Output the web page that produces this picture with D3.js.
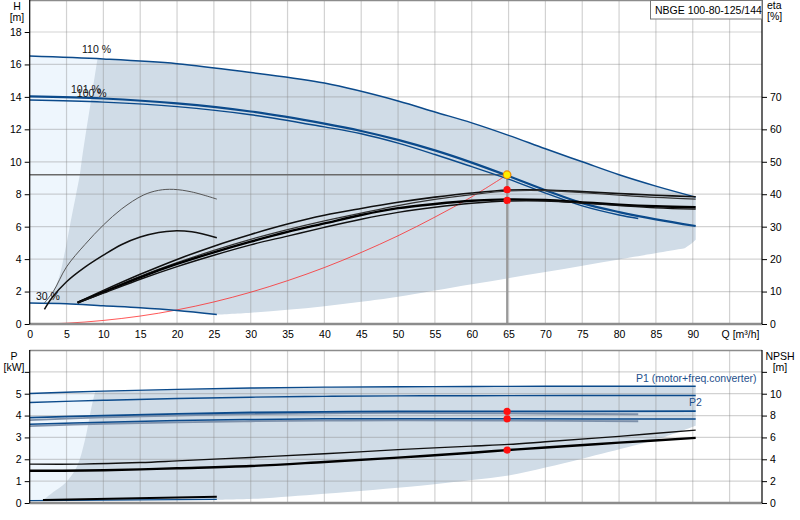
<!DOCTYPE html>
<html><head><meta charset="utf-8">
<script src="https://cdn.jsdelivr.net/npm/d3@7"></script>
<style>
body{margin:0;background:#fff}
svg{display:block;font-family:"Liberation Sans",Arial,sans-serif;font-size:10.5px}
</style>
</head><body>
<svg id="chart" width="800" height="520"></svg>
<script>
// ---------------- DATA ----------------
const title = "NBGE 100-80-125/144";
const qTicks = [0,5,10,15,20,25,30,35,40,45,50,55,60,65,70,75,80,85,90];
const qGrid = [5,10,15,20,25,30,35,40,45,50,55,60,65,70,75,80,85,90,95];
const hTicks = [0,2,4,6,8,10,12,14,16,18];
const etaTicks = [0,10,20,30,40,50,60,70];
const pTicks = [0,1,2,3,4,5,6];
const pLabels = ["0","1","2","3","4","5",""];
const npshTicks = [0,2,4,6,8,10,12];
const npshLabels = ["0","2","4","6","8","10",""];

// head curves [Q m3/h, H m]
const head110 = [[0,16.52],[10,16.34],[20,16.05],[30,15.5],[40,14.85],[50,13.75],[55,13.07],[60,12.4],[65,11.63],[70,10.8],[75,10.0],[80,9.2],[85,8.5],[90.4,7.82]];
const head101 = [[0,14.03],[10,13.9],[20,13.6],[30,13.1],[40,12.35],[45,11.9],[50,11.35],[55,10.7],[60,9.95],[65,9.12],[70,8.25],[75,7.45],[80,6.9],[85,6.45],[90.4,6.04]];
const head100 = [[0,13.81],[10,13.68],[20,13.4],[30,12.9],[40,12.15],[45,11.73],[50,11.15],[55,10.45],[60,9.7],[65,8.93],[70,8.07],[75,7.28],[80,6.72],[82.6,6.5]];
const head30  = [[0,1.3],[5,1.25],[10,1.12],[15,1.0],[20,0.83],[25.4,0.58]];
const systemCurve = [[0,0],[5,0.05],[10,0.22],[15,0.49],[20,0.87],[25,1.36],[30,1.96],[35,2.67],[40,3.48],[45,4.41],[50,5.44],[55,6.59],[60,7.84],[64.8,9.2]];
// curve labels [text, Q at text start, H at baseline]
const curveLabels = [["110 %", 7.1, 16.7], ["101 %", 5.6, 14.25], ["100 %", 6.4, 14.0], ["30 %", 0.85, 1.48]];

// efficiency curves [Q, eta %]
const etaSmallA = [[2,6.5],[3.2,10],[5,17.6],[7.5,24.5],[10,30.5],[12.5,35.5],[15.4,39.7],[17.5,41.2],[19.5,41.5],[22,40.7],[25.4,38.5]];
const etaSmallB = [[2,4.5],[3,8],[5,13],[7.5,17.5],[10,21.2],[12.5,24.5],[15,26.8],[17.5,28.2],[19.5,28.7],[22,28.4],[25.4,26.6]];
const eta1 = [[6.5,6.6],[10,10.3],[15,15.3],[20,19.9],[25,24.0],[30,27.6],[35,30.8],[40,33.5],[45,35.6],[50,37.5],[55,39.1],[60,40.4],[65,41.3],[70,41.3],[75,40.8],[80,40.2],[85,39.7],[90.4,39.2]];
const eta2 = [[6.5,6.6],[10,10.0],[15,14.7],[20,18.9],[25,22.7],[30,26.1],[35,29.1],[40,31.8],[45,34.2],[50,36.5],[55,38.4],[60,39.9],[65,41.0],[70,41.1],[75,40.5],[80,39.7],[85,39.0],[90.4,38.5]];
const eta3 = [[6.5,6.6],[10,9.8],[15,14.4],[20,18.5],[25,22.1],[30,25.4],[35,28.4],[40,31.0],[45,33.6],[50,35.7],[55,37.0],[60,38.0],[65,38.4],[70,38.2],[75,37.5],[80,36.8],[85,36.3],[90.4,36.0]];
const eta4 = [[6.5,6.6],[10,9.5],[15,13.8],[20,17.7],[25,21.2],[30,24.4],[35,27.1],[40,29.8],[45,32.3],[50,34.4],[55,36.0],[60,37.2],[65,37.9],[70,37.9],[75,37.3],[80,36.5],[85,35.8],[90.4,35.4]];

// operating point
const opQ = 64.8, opH = 9.2;
const opEta = [41.4, 38.1];
const opP = [4.19, 3.85];
const opNpsh = 4.84;

// shaded envelope (top) [Q, H]
const topLeftEdge = [[2.6,1.28],[3.2,2.0],[4.0,2.9],[4.8,4.5],[5.6,6.4],[6.3,8.0],[6.8,9.2],[7.1,10.2],[7.7,12.0],[8.4,14.0],[9.2,16.33]];
const topRightEdge = [[90.4,7.82],[90.4,5.2],[89.8,4.95]];
const topLowEdge = [[25.4,0.58],[30,0.7],[35,0.88],[40,1.1],[45,1.37],[50,1.68],[60,2.45],[70,3.2],[80,3.98],[88.9,4.67]];

// power curves [Q, kW]
const p1_110 = [[0,5.01],[10,5.12],[20,5.2],[30,5.26],[40,5.3],[50,5.32],[60,5.33],[70,5.34],[90.4,5.34]];
const p2_110 = [[0,4.6],[10,4.7],[20,4.78],[30,4.84],[40,4.88],[50,4.9],[60,4.91],[90.4,4.92]];
const p1_100 = [[0,3.91],[10,4.0],[20,4.08],[30,4.14],[40,4.17],[50,4.19],[65,4.19],[90.4,4.2]];
const p1_101 = [[0,3.79],[10,3.92],[20,4.0],[30,4.07],[40,4.1],[50,4.12],[65,4.1],[82.6,4.06]];
const p2_100 = [[0,3.6],[10,3.7],[20,3.77],[30,3.82],[40,3.85],[50,3.86],[65,3.85],[90.4,3.84]];
const p2_101 = [[0,3.52],[10,3.62],[20,3.69],[30,3.74],[40,3.77],[50,3.78],[65,3.77],[82.6,3.74]];
const p_30 = [[0,0.11],[25.4,0.17]];

// NPSH curves [Q, m]
const npshA = [[0,3.56],[7,3.56],[15,3.7],[20,3.85],[30,4.17],[40,4.5],[50,4.88],[60,5.2],[65,5.36],[70,5.6],[80,6.1],[90.4,6.67]];
const npshB = [[0,2.95],[7.5,2.97],[15,3.08],[20,3.18],[30,3.38],[40,3.75],[50,4.15],[60,4.6],[64.8,4.84],[70,5.08],[80,5.52],[90.4,5.96]];
const npsh30 = [[1.8,0.28],[25.4,0.57]];

// shaded envelope (bottom) [Q, kW]
const botLeftEdge = [[1.8,0.12],[3.2,0.5],[4.8,0.9],[6.4,1.66],[7.5,2.88],[8.4,4.4],[8.9,5.1]];
const botLowEdge = [[25.4,0.15],[31,0.2],[40,0.42],[53,0.79],[60,1.05],[65,1.26],[70,1.62],[75.1,2.04],[81.9,2.62],[86,3.0],[90.4,3.53]];
const botLightBase = [[10,0.13],[0,0.11]];

// ---------------- LAYOUT ----------------
const svg = d3.select("#chart");
const L = 29.7, R = 762;
const x = d3.scaleLinear().domain([0, 99.4]).range([L, R]);
const T1 = 0, B1 = 324;
const yH = d3.scaleLinear().domain([0, 18]).range([B1, 32]);
const yEta = d3.scaleLinear().domain([0, 90]).range([B1, 32]);
const T2 = 350, B2 = 503;
const yP = d3.scaleLinear().domain([0, 7]).range([B2, T2]);
const yN = d3.scaleLinear().domain([0, 14]).range([B2, T2]);

const NAVY = "#0b4a8b", GREYBLUE = "#7d90aa";
const DARK = "#d0dce7", LIGHT = "#eef6fd";

function seg(pts, ys) {
  return d3.line().x(d => x(d[0])).y(d => ys(d[1])).curve(d3.curveCatmullRom.alpha(0.5))(pts);
}
function poly(parts) { return parts.map((s, i) => i ? s.replace(/^M/, "L") : s).join("") + "Z"; }
const rev = a => a.slice().reverse();

// clip paths
const defs = svg.append("defs");
defs.append("clipPath").attr("id", "c1").append("rect").attr("x", L).attr("y", T1).attr("width", R - L).attr("height", B1 - T1);
defs.append("clipPath").attr("id", "c2").append("rect").attr("x", L).attr("y", T2).attr("width", R - L).attr("height", B2 - T2);

const g1 = svg.append("g").attr("clip-path", "url(#c1)");
const g2 = svg.append("g").attr("clip-path", "url(#c2)");

// ---- top shaded regions
g1.append("path").attr("fill", LIGHT)
  .attr("d", poly([seg(head110.slice(0, 2), yH), seg(rev(head30.slice(0, 3)), yH)]));
g1.append("path").attr("fill", DARK)
  .attr("d", poly([
    seg([topLeftEdge[topLeftEdge.length - 1]].concat(head110.filter(d => d[0] > 9.5)), yH),
    seg(topRightEdge.slice(1), yH),
    seg(rev(topLowEdge), yH),
    seg(rev(head30.filter(d => d[0] > 2.6)), yH),
    seg(topLeftEdge, yH)
  ]));

// ---- bottom shaded regions
g2.append("path").attr("fill", LIGHT)
  .attr("d", poly([seg(p1_110.slice(0, 2), yP), seg(botLightBase, yP)]));
g2.append("path").attr("fill", DARK)
  .attr("d", poly([
    seg([botLeftEdge[botLeftEdge.length - 1]].concat(p1_110.filter(d => d[0] > 9.5)), yP),
    seg(rev(botLowEdge), yP),
    seg(rev(p_30).concat([botLeftEdge[0]]), yP),
    seg(botLeftEdge, yP)
  ]));

// ---- gridlines
function grid(g, ys, vals, top, bottom) {
  g.selectAll(null).data(qGrid).join("line")
    .attr("x1", d => x(d)).attr("x2", d => x(d)).attr("y1", top).attr("y2", bottom)
    .attr("stroke", "#8a8a8a").attr("stroke-opacity", 0.38).attr("stroke-width", 1.2);
  g.selectAll(null).data(vals).join("line")
    .attr("x1", L).attr("x2", R).attr("y1", d => ys(d)).attr("y2", d => ys(d))
    .attr("stroke", "#8a8a8a").attr("stroke-opacity", 0.38).attr("stroke-width", 1.2);
}
grid(g1, yH, hTicks.slice(1), T1, B1);
grid(g2, yP, pTicks.slice(1), T2, B2);

// ---- top curves
function curve(g, data, ys, color, w, op) {
  g.append("path").datum(data).attr("fill", "none").attr("stroke", color)
    .attr("stroke-width", w).attr("stroke-opacity", op == null ? 1 : op)
    .attr("stroke-linejoin", "round").attr("stroke-linecap", "butt")
    .attr("d", d3.line().x(d => x(d[0])).y(d => ys(d[1])).curve(d3.curveCatmullRom.alpha(0.5)));
}
// operating lines
g1.append("line").attr("x1", L).attr("x2", x(opQ)).attr("y1", yH(opH)).attr("y2", yH(opH))
  .attr("stroke", "#6a6a6a").attr("stroke-width", 1.3);
g1.append("line").attr("x1", x(opQ)).attr("x2", x(opQ)).attr("y1", yH(opH)).attr("y2", yH(0))
  .attr("stroke", "#9a9a9a").attr("stroke-width", 2);

curve(g1, systemCurve, yH, "#ff2020", 1, 0.75);
curve(g1, head30, yH, NAVY, 1.5);
curve(g1, head110, yH, NAVY, 1.5);
curve(g1, head100, yH, NAVY, 1.4);
curve(g1, head101, yH, NAVY, 2.2);

curve(g1, etaSmallA, yEta, "#555", 1);
curve(g1, etaSmallB, yEta, "#111", 1.5);
curve(g1, eta1, yEta, "#111", 1.6);
curve(g1, eta2, yEta, "#333", 1.2);
curve(g1, eta3, yEta, "#000", 2.4);
curve(g1, eta4, yEta, "#111", 1.4);

// curve labels
svg.selectAll(null).data(curveLabels).join("text")
  .attr("x", d => x(d[1])).attr("y", d => yH(d[2]))
  .text(d => d[0]).attr("fill", "#111");

// operating points top
g1.selectAll(null).data(opEta).join("circle")
  .attr("cx", x(opQ)).attr("cy", d => yEta(d)).attr("r", 3.6).attr("fill", "#ff1010");
g1.append("circle").attr("cx", x(opQ)).attr("cy", yH(opH)).attr("r", 3.8)
  .attr("fill", "#ffee00").attr("stroke", "#f09000").attr("stroke-width", 1.2);

// ---- bottom curves
curve(g2, p_30, yP, NAVY, 1.3);
curve(g2, npsh30, yN, "#000", 2);
curve(g2, p1_110, yP, NAVY, 1.4);
curve(g2, p2_110, yP, NAVY, 1.4);
curve(g2, p1_101, yP, GREYBLUE, 1.8);
curve(g2, p2_101, yP, GREYBLUE, 1.8);
curve(g2, p1_100, yP, NAVY, 1.8);
curve(g2, p2_100, yP, NAVY, 1.5);
curve(g2, npshA, yN, "#111", 1.4);
curve(g2, npshB, yN, "#000", 2.4);

g2.selectAll(null).data(opP).join("circle")
  .attr("cx", x(opQ)).attr("cy", d => yP(d)).attr("r", 3.6).attr("fill", "#ff1010");
g2.append("circle").attr("cx", x(opQ)).attr("cy", yN(opNpsh)).attr("r", 3.6).attr("fill", "#ff1010");

svg.append("text").attr("x", 636).attr("y", 382).attr("fill", "#1d4f8c").text("P1 (motor+freq.converter)");
svg.append("text").attr("x", 689).attr("y", 406).attr("fill", "#1d4f8c").text("P2");

// ---- frames / axes
function hline(y, color, w) {
  svg.append("line").attr("x1", L).attr("x2", R).attr("y1", y).attr("y2", y).attr("stroke", color).attr("stroke-width", w);
}
hline(T1 + 0.5, "#8c8c8c", 1.5);
hline(B1, "#8c8c8c", 2.5);
hline(T2 + 0.5, "#8c8c8c", 1.5);
hline(B2, "#8c8c8c", 2.5);
[L, R].forEach(xx => {
  svg.append("line").attr("x1", xx).attr("x2", xx).attr("y1", T1).attr("y2", B1).attr("stroke", "#000").attr("stroke-width", 1.2);
  svg.append("line").attr("x1", xx).attr("x2", xx).attr("y1", T2).attr("y2", B2).attr("stroke", "#000").attr("stroke-width", 1.2);
});

function styleAxis(sel) {
  sel.select(".domain").remove();
  sel.selectAll(".tick line").attr("stroke", "#000");
  sel.selectAll(".tick text").attr("fill", "#000").style("font-size", "10.5px")
    .style("font-family", '"Liberation Sans",Arial,sans-serif');
}
svg.append("g").attr("transform", `translate(${L},0)`)
  .call(d3.axisLeft(yH).tickValues(hTicks).tickSize(5).tickPadding(3)).call(styleAxis);
svg.append("g").attr("transform", `translate(${R},0)`)
  .call(d3.axisRight(yEta).tickValues(etaTicks).tickSize(5).tickPadding(3)).call(styleAxis);
svg.append("g").attr("transform", `translate(0,${B1})`)
  .call(d3.axisBottom(x).tickValues(qTicks).tickSize(0).tickPadding(7)).call(styleAxis);
svg.append("g").attr("transform", `translate(${L},0)`)
  .call(d3.axisLeft(yP).tickValues(pTicks).tickFormat((d, i) => pLabels[i]).tickSize(5).tickPadding(3)).call(styleAxis);
svg.append("g").attr("transform", `translate(${R},0)`)
  .call(d3.axisRight(yN).tickValues(npshTicks).tickFormat((d, i) => npshLabels[i]).tickSize(5).tickPadding(3)).call(styleAxis);

// axis titles
svg.append("text").attr("x", x(95) - 8).attr("y", 338).text("Q [m³/h]");
svg.append("text").attr("x", 17).attr("y", 10).attr("text-anchor", "middle").text("H");
svg.append("text").attr("x", 17).attr("y", 21).attr("text-anchor", "middle").text("[m]");
svg.append("text").attr("x", 767).attr("y", 9).text("eta");
svg.append("text").attr("x", 767).attr("y", 20).text("[%]");
svg.append("text").attr("x", 14).attr("y", 360).attr("text-anchor", "middle").text("P");
svg.append("text").attr("x", 14).attr("y", 371).attr("text-anchor", "middle").text("[kW]");
svg.append("text").attr("x", 780).attr("y", 360).attr("text-anchor", "middle").text("NPSH");
svg.append("text").attr("x", 780).attr("y", 371).attr("text-anchor", "middle").text("[m]");

// title box
const tb = svg.append("g");
tb.append("rect").attr("x", 650.5).attr("y", 0.5).attr("width", R - 650.5).attr("height", 18.5)
  .attr("fill", "#fff").attr("stroke", "#777").attr("stroke-width", 1);
tb.append("text").attr("x", 655).attr("y", 13.5).text(title);
</script>
</body></html>
